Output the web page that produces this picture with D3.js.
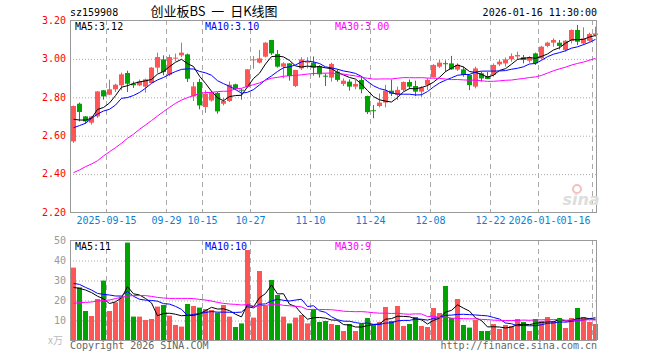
<!DOCTYPE html>
<meta charset="utf-8">
<style>
body { margin: 0; background: #fff; }
text { font-family: "DejaVu Sans Mono", monospace; font-size: 10px; }
.grid line { stroke: #aaa; }
.grid path { display: none; }
</style>
<body>
<script src="https://d3js.org/d3.v7.min.js"></script>
<script>
// trading days shown (88 candles)
var dates = ("2025-09-05 2025-09-08 2025-09-09 2025-09-10 2025-09-11 2025-09-12 2025-09-15 2025-09-16 2025-09-17 2025-09-18 " +
  "2025-09-19 2025-09-22 2025-09-23 2025-09-24 2025-09-25 2025-09-26 2025-09-29 2025-09-30 2025-10-09 2025-10-10 " +
  "2025-10-13 2025-10-14 2025-10-15 2025-10-16 2025-10-17 2025-10-20 2025-10-21 2025-10-22 2025-10-23 2025-10-24 " +
  "2025-10-27 2025-10-28 2025-10-29 2025-10-30 2025-10-31 2025-11-03 2025-11-04 2025-11-05 2025-11-06 2025-11-07 " +
  "2025-11-10 2025-11-11 2025-11-12 2025-11-13 2025-11-14 2025-11-17 2025-11-18 2025-11-19 2025-11-20 2025-11-21 " +
  "2025-11-24 2025-11-25 2025-11-26 2025-11-27 2025-11-28 2025-12-01 2025-12-02 2025-12-03 2025-12-04 2025-12-05 " +
  "2025-12-08 2025-12-09 2025-12-10 2025-12-11 2025-12-12 2025-12-15 2025-12-16 2025-12-17 2025-12-18 2025-12-19 " +
  "2025-12-22 2025-12-23 2025-12-24 2025-12-25 2025-12-26 2025-12-29 2025-12-30 2025-12-31 2026-01-05 2026-01-06 " +
  "2026-01-07 2026-01-08 2026-01-09 2026-01-12 2026-01-13 2026-01-14 2026-01-15 2026-01-16").split(" ");

var opens = [2.568,2.764,2.698,2.665,2.698,2.834,2.811,2.839,2.860,2.924,
  2.868,2.860,2.853,2.872,2.952,2.995,2.915,3.000,3.016,3.021,
  2.802,2.877,2.747,2.781,2.820,2.764,2.778,2.865,2.837,2.851,
  2.990,2.978,3.009,3.096,3.023,2.957,2.974,2.856,2.948,2.980,
  2.978,2.960,2.910,2.900,2.931,2.867,2.879,2.853,2.888,2.804,
  2.730,2.752,2.770,2.832,2.810,2.836,2.877,2.856,2.827,2.862,
  2.902,2.957,2.975,2.974,2.942,2.943,2.914,2.853,2.922,2.908,
  2.914,2.969,2.974,2.995,3.010,3.006,2.988,3.026,3.000,3.065,
  3.082,3.082,3.044,3.092,3.148,3.078,3.092,3.122];
var highs = [2.755,2.770,2.700,2.700,2.830,2.835,2.889,2.868,2.926,2.936,
  2.880,2.890,2.895,2.955,3.030,3.016,3.020,3.025,3.082,3.025,
  2.877,2.894,2.834,2.830,2.825,2.794,2.880,2.868,2.842,2.945,
  3.012,3.044,3.085,3.096,3.044,2.980,2.976,2.940,3.006,3.006,
  3.010,2.965,2.922,2.978,2.943,2.896,2.891,2.888,2.908,2.806,
  2.757,2.817,2.862,2.890,2.853,2.880,2.890,2.884,2.855,2.897,
  2.970,2.992,2.990,3.013,2.975,2.957,2.916,2.957,2.930,2.930,
  2.974,2.995,3.005,3.026,3.035,3.018,3.012,3.030,3.065,3.087,
  3.105,3.096,3.095,3.151,3.174,3.162,3.134,3.165];
var lows = [2.560,2.672,2.660,2.655,2.690,2.785,2.810,2.825,2.834,2.825,
  2.846,2.855,2.822,2.870,2.925,2.912,2.908,2.985,3.007,2.877,
  2.778,2.735,2.717,2.775,2.712,2.755,2.773,2.834,2.785,2.848,
  2.946,2.974,3.005,3.018,2.952,2.896,2.884,2.850,2.940,2.948,
  2.910,2.900,2.856,2.879,2.879,2.856,2.832,2.839,2.818,2.710,
  2.688,2.745,2.745,2.804,2.783,2.830,2.840,2.804,2.800,2.836,
  2.900,2.950,2.930,2.940,2.935,2.905,2.835,2.844,2.879,2.895,
  2.905,2.960,2.957,2.983,2.995,2.974,2.978,2.966,2.995,3.058,
  3.061,3.047,3.035,3.078,3.070,3.070,3.087,3.113];
var closes = [2.752,2.721,2.672,2.698,2.828,2.802,2.839,2.863,2.917,2.868,
  2.860,2.880,2.891,2.952,3.007,2.929,3.007,3.004,3.030,2.894,
  2.854,2.755,2.816,2.825,2.724,2.778,2.863,2.842,2.834,2.943,
  2.995,3.000,3.082,3.026,2.957,2.974,2.908,2.940,2.995,2.983,
  2.952,2.917,2.908,2.971,2.888,2.884,2.853,2.867,2.839,2.720,
  2.726,2.770,2.832,2.816,2.836,2.877,2.853,2.827,2.848,2.888,
  2.966,2.978,2.974,2.943,2.967,2.914,2.861,2.948,2.896,2.893,
  2.966,2.983,2.995,3.012,3.018,2.992,3.006,2.974,3.061,3.082,
  3.096,3.065,3.092,3.148,3.087,3.104,3.127,3.130];
// volume, 万
var volumes = [36.2,26.3,14.5,12,20.5,29.7,14.5,18.8,21.7,48.7,
  11.7,11.7,10,10.5,16.7,17.5,12.2,7.5,6.7,18,
  17,16.2,15.5,15,13.7,17.5,11.7,6.5,8.3,45,
  11.2,34.5,17,30,22.5,11.7,8.3,11.2,12.5,8.3,
  15.3,9,9.5,8,7.5,4.5,8,4.5,8,11,
  7.5,9,16.5,9.5,17,7,8,11.5,7,6.5,
  16,13.5,27,11,20.5,7.5,6.2,10,4.5,4.5,
  8,5.5,7.5,7,10.5,9,4.5,10.5,9.5,11.5,
  9.5,11,6,11,16,11.5,9,8];

// MA values at the left edge (they depend on days before the window)
var ma5Head = [2.683,2.679,2.679,2.688];
var ma10Head = [2.639,2.65,2.662,2.688,2.71,2.726,2.735,2.757,2.792];
var ma30Head = [2.405,2.419,2.436,2.45,2.467,2.492,2.514,2.535,2.558,2.584,
  2.605,2.631,2.653,2.676,2.70,2.723,2.745,2.766,2.783,2.796,
  2.806,2.818,2.822,2.823,2.827,2.829,2.829,2.842,2.844];
var vma5Head = [26.3,25.8,25,23.7];
var vma10Head = [28.3,27.8,26.3,25,23.3,22.8,22.5,22,22];
var vma30Head = [18.3,18.7,18.8,19,19.5,19.7,20,20.7,21.3,22,
  22.2,22.2,22.2,21.8,21.3,21,20.8,20.8,20.8,20.8,
  20.7,20.3,20,19.5,18.8,18.3,18,17.8,17.5];

var priceTicks = [2.2, 2.4, 2.6, 2.8, 3.0, 3.2];
var volTicks = [0, 10, 20, 30, 40, 50];
var tickDates = ["2025-09-15","2025-09-29","2025-10-15","2025-10-27","2025-11-10","2025-11-24","2025-12-08","2025-12-22","2026-01-05","2026-01-16"];
var tickText = ["2025-09-15","09-29","10-15","10-27","11-10","11-24","12-08","12-22","2026-01-05","01-16"];
var priceMaText = ["MA5:3.12", "MA10:3.10", "MA30:3.00"];
var volMaText = ["MA5:11", "MA10:10", "MA30:9"];

var RED = "#ff5555", GREEN = "#00a400";
var L = 70, R = 597, T = 20, B = 212, VT = 240, VB = 340;

var svg = d3.select("body").append("svg")
    .attr("width", 660)
    .attr("height", 360);

// scales
var x = d3.scaleBand().domain(dates).range([70.5, 598.5]).paddingInner(1/6).paddingOuter(1/12);
var y = d3.scaleLinear().domain([2.2, 3.2]).range([B, T]);
var yv = d3.scaleLinear().domain([0, 50]).range([VB, VT]);

function movingAvg(vals, n, head) {
  return vals.map(function(v, i) {
    if (i < n - 1) return head[i];
    return d3.mean(vals.slice(i - n + 1, i + 1));
  });
}

// horizontal dotted grid
svg.append("g").attr("class", "grid")
    .attr("transform", "translate(" + L + ",0)")
    .call(d3.axisRight(y).tickValues([2.4, 2.6, 2.8, 3.0]).tickSize(R - L).tickFormat(""))
    .selectAll("line").attr("stroke-dasharray", "1,2").attr("transform", "translate(0,0.5)");
svg.append("g").attr("class", "grid")
    .attr("transform", "translate(" + L + ",0)")
    .call(d3.axisRight(yv).tickValues([10, 20, 30, 40]).tickSize(R - L).tickFormat(""))
    .selectAll("line").attr("stroke-dasharray", "1,2").attr("transform", "translate(0,0.5)");

// vertical dashed grid in both panels
[[T, B], [VT, VB]].forEach(function(p) {
  svg.append("g").selectAll("line")
      .data(tickDates)
    .enter().append("line")
      .attr("x1", function(d) { return x(d) - 0.5; })
      .attr("x2", function(d) { return x(d) - 0.5; })
      .attr("y1", p[0]).attr("y2", p[1])
      .attr("stroke", "#aaa")
      .attr("stroke-dasharray", "5,4");
});

// candles
var idx = d3.range(dates.length);
var candle = svg.append("g").selectAll("g")
    .data(idx)
  .enter().append("g");
candle.append("line")
    .attr("x1", function(i) { return x(dates[i]) + 2.5; })
    .attr("x2", function(i) { return x(dates[i]) + 2.5; })
    .attr("y1", function(i) { return y(highs[i]); })
    .attr("y2", function(i) { return y(lows[i]); })
    .attr("stroke", function(i) { return closes[i] >= opens[i] ? RED : GREEN; });
candle.append("rect")
    .attr("x", function(i) { return x(dates[i]); })
    .attr("width", x.bandwidth())
    .attr("y", function(i) { return y(Math.max(opens[i], closes[i])); })
    .attr("height", function(i) { return Math.max(1, Math.abs(y(opens[i]) - y(closes[i]))); })
    .attr("fill", function(i) { return closes[i] >= opens[i] ? RED : GREEN; });

// volume bars
svg.append("g").selectAll("rect")
    .data(idx)
  .enter().append("rect")
    .attr("x", function(i) { return x(dates[i]); })
    .attr("width", x.bandwidth())
    .attr("y", function(i) { return yv(volumes[i]); })
    .attr("height", function(i) { return VB - yv(volumes[i]); })
    .attr("fill", function(i) { return closes[i] >= opens[i] ? RED : GREEN; });

// moving average lines
var maColors = ["#000", "#0000ff", "#ff00ff"];
var priceMa = [movingAvg(closes, 5, ma5Head), movingAvg(closes, 10, ma10Head), movingAvg(closes, 30, ma30Head)];
var volMa = [movingAvg(volumes, 5, vma5Head), movingAvg(volumes, 10, vma10Head), movingAvg(volumes, 30, vma30Head)];
var cx = function(d, i) { return x(dates[i]) + 2.5; };
priceMa.forEach(function(s, k) {
  svg.append("path").datum(s)
      .attr("fill", "none").attr("stroke", maColors[k]).attr("stroke-width", 1)
      .attr("d", d3.line().x(cx).y(function(d) { return y(d); }));
});
volMa.forEach(function(s, k) {
  svg.append("path").datum(s)
      .attr("fill", "none").attr("stroke", maColors[k]).attr("stroke-width", 1)
      .attr("d", d3.line().x(cx).y(function(d) { return yv(d); }));
});

// frames
svg.append("rect").attr("x", L + 0.5).attr("y", T + 0.5).attr("width", R - L - 1).attr("height", B - T)
    .attr("fill", "none").attr("stroke", "#999");
svg.append("rect").attr("x", L + 0.5).attr("y", VT + 0.5).attr("width", R - L - 1).attr("height", VB - VT)
    .attr("fill", "none").attr("stroke", "#999");

// y axes labels
var ya = svg.append("g")
    .attr("transform", "translate(" + L + ",0)")
    .call(d3.axisLeft(y).tickValues(priceTicks).tickSize(0).tickPadding(4).tickFormat(d3.format(".2f")));
ya.select(".domain").remove();
ya.selectAll("text").attr("fill", "#ff0000").style("font-size", "10px").style("font-family", "DejaVu Sans Mono");

var yva = svg.append("g")
    .attr("transform", "translate(" + L + ",0)")
    .call(d3.axisLeft(yv).tickValues(volTicks).tickSize(0).tickPadding(4)
      .tickFormat(function(d) { return d === 0 ? "x万" : d; }));
yva.select(".domain").remove();
yva.selectAll("text").attr("fill", "#999").style("font-size", "10px").style("font-family", "DejaVu Sans Mono");
yva.selectAll("text").filter(function(d) { return d === 0; })
    .attr("fill", "#bbb").attr("dx", -3).style("font-family", "Noto Sans CJK SC").style("font-size", "10px");

// x axis date labels
var xa = svg.append("g")
    .attr("transform", "translate(-3," + B + ")")
    .call(d3.axisBottom(x).tickValues(tickDates).tickSize(0).tickPadding(5)
      .tickFormat(function(d) { return tickText[tickDates.indexOf(d)]; }));
xa.select(".domain").remove();
xa.selectAll("text").attr("fill", "#0a7fd4").style("font-size", "10px").style("font-family", "DejaVu Sans Mono");
var lastTick = xa.selectAll(".tick").filter(function(d) { return d === tickDates[tickDates.length - 1]; });
lastTick.insert("rect", "text").attr("x", -32).attr("y", 4).attr("width", 31).attr("height", 12).attr("fill", "#fff");
lastTick.select("text").attr("text-anchor", "end").attr("x", -2);

// legends
[[T + 10, priceMaText], [VT + 10, volMaText]].forEach(function(p) {
  svg.append("g").selectAll("text")
      .data(p[1])
    .enter().append("text")
      .attr("x", function(d, k) { return [75, 205, 335][k]; })
      .attr("y", p[0])
      .attr("fill", function(d, k) { return maColors[k]; })
      .text(function(d) { return d; });
});

// header
svg.append("text").attr("x", 70).attr("y", 16).attr("fill", "#000").text("sz159908");
svg.append("text").attr("x", 214).attr("y", 16).attr("text-anchor", "middle").attr("fill", "#000")
    .style("font-family", "Noto Sans CJK SC").style("font-size", "13px").style("white-space", "pre")
    .text("创业板BS  一  日K线图");
svg.append("text").attr("x", 597).attr("y", 16).attr("text-anchor", "end").attr("fill", "#000").text("2026-01-16 11:30:00");

// footer
svg.append("text").attr("x", 70).attr("y", 349).attr("fill", "#666").text("Copyright 2026 SINA.COM");
svg.append("text").attr("x", 597).attr("y", 349).attr("text-anchor", "end").attr("fill", "#666").text("http://finance.sina.com.cn");

// watermark
svg.append("circle").attr("cx", 577).attr("cy", 189).attr("r", 4).attr("fill", "none").attr("stroke", "#f2c0c0").attr("stroke-width", 2);
svg.append("text").attr("x", 581).attr("y", 205).attr("text-anchor", "middle").attr("fill", "#ddd")
    .style("font-family", "DejaVu Sans").style("font-style", "italic").style("font-weight", "bold").style("font-size", "16px").text("sina");
</script>
</body>
